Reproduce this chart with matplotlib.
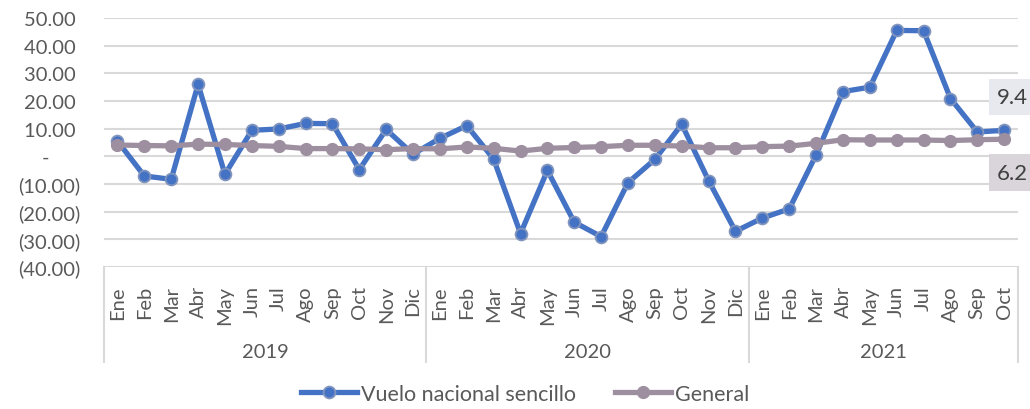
import numpy as np
import matplotlib.pyplot as plt
from matplotlib.lines import Line2D

plt.rcParams['font.family'] = ['Lato', 'DejaVu Sans']

years = ["2019", "2020", "2021"]
months_per_year = [12, 12, 10]
month_names = ["Ene", "Feb", "Mar", "Abr", "May", "Jun", "Jul", "Ago", "Sep", "Oct", "Nov", "Dic"]

vuelo = [5.5, -7.1, -8.3, 26.0, -6.5, 9.4, 9.9, 11.9, 11.8, -4.8, 9.7, 0.8,
         6.5, 11.1, -1.0, -27.9, -5.1, -23.8, -29.0, -9.5, -1.1, 11.6, -8.8, -27.1,
         -22.3, -19.0, 0.5, 23.4, 25.0, 45.5, 45.4, 20.9, 8.8, 9.4]
general = [4.1, 3.9, 3.8, 4.4, 4.3, 3.9, 3.6, 2.8, 2.8, 2.7, 2.4, 2.8,
           2.7, 3.4, 2.9, 1.9, 2.9, 3.2, 3.5, 4.0, 4.0, 3.7, 3.1, 3.1,
           3.5, 3.7, 4.7, 6.0, 5.9, 5.9, 5.9, 5.7, 6.0, 6.2]

labels = []
for n in months_per_year:
    labels += month_names[:n]
x = np.arange(len(labels))

text_color = "#595959"
grid_color = "#d9d9d9"
blue = "#4472c4"
grey = "#9e8fa0"

fig = plt.figure(figsize=(10.3, 4.1), dpi=100)
ax = fig.add_axes([0.101, 0.3463, 0.887, 0.6074])

ax.plot(x, vuelo, color=blue, lw=3.8, marker="o", ms=8.5,
        mfc=blue, mec="#8195bd", mew=1.3, label="Vuelo nacional sencillo", zorder=3)
ax.plot(x, general, color=grey, lw=3.8, marker="o", ms=8.5,
        mfc=grey, mec=grey, mew=1.0, label="General", zorder=4)

ax.set_xlim(-0.5, len(labels) - 0.5)
ax.set_ylim(-40, 50)
yt = np.arange(-40, 51, 10)
ax.set_yticks(yt)
# accounting style: negatives in brackets, zero as a dash
def fmt(v):
    if v == 0:
        return "-      "
    if v < 0:
        return "({:.2f})".format(-v)
    return "{:.2f} ".format(v)
ax.set_yticklabels([fmt(v) for v in yt], color=text_color, fontsize=14.5)
for v in yt:
    ax.axhline(v, color=grid_color, lw=1.5, zorder=1)

ax.set_xticks(x)
ax.set_xticklabels(labels, rotation=90, color=text_color, fontsize=14.5, va="top")
ax.tick_params(length=0)
ax.tick_params(axis="x", pad=13)
ax.tick_params(axis="y", pad=17)
for s in ax.spines.values():
    s.set_visible(False)

# year groups
h = (363 - 268) / 249.0
edges = [-0.5]
for n in months_per_year:
    edges.append(edges[-1] + n)
for e in edges:
    ax.add_line(Line2D([e, e], [0, -h], color=grid_color, lw=1.5,
                       transform=ax.get_xaxis_transform(), clip_on=False))
for i, yr in enumerate(years):
    ax.text((edges[i] + edges[i + 1]) / 2, -(352 - 268) / 249.0, yr,
            transform=ax.get_xaxis_transform(), ha="center", va="center",
            color=text_color, fontsize=14.5)

# end labels
ax.annotate("{:.1f}".format(vuelo[-1]), (x[-1], vuelo[-1]), xytext=(6, 24),
            textcoords="offset points", ha="center", va="center", fontsize=16,
            color="#404040", annotation_clip=False,
            bbox=dict(boxstyle="square,pad=0.38", fc="#e7e9ee", ec="none"))
ax.annotate("{:.1f}".format(general[-1]), (x[-1], general[-1]), xytext=(6, -24),
            textcoords="offset points", ha="center", va="center", fontsize=16,
            color="#404040", annotation_clip=False,
            bbox=dict(boxstyle="square,pad=0.38", fc="#d9d5da", ec="none"))

fig.legend(loc="lower center", bbox_to_anchor=(0.51, -0.035), ncol=2, frameon=False,
           fontsize=15.5, labelcolor=text_color, handlelength=2.6,
           handletextpad=0.2, columnspacing=1.8)

fig.savefig("out.png", dpi=100)
